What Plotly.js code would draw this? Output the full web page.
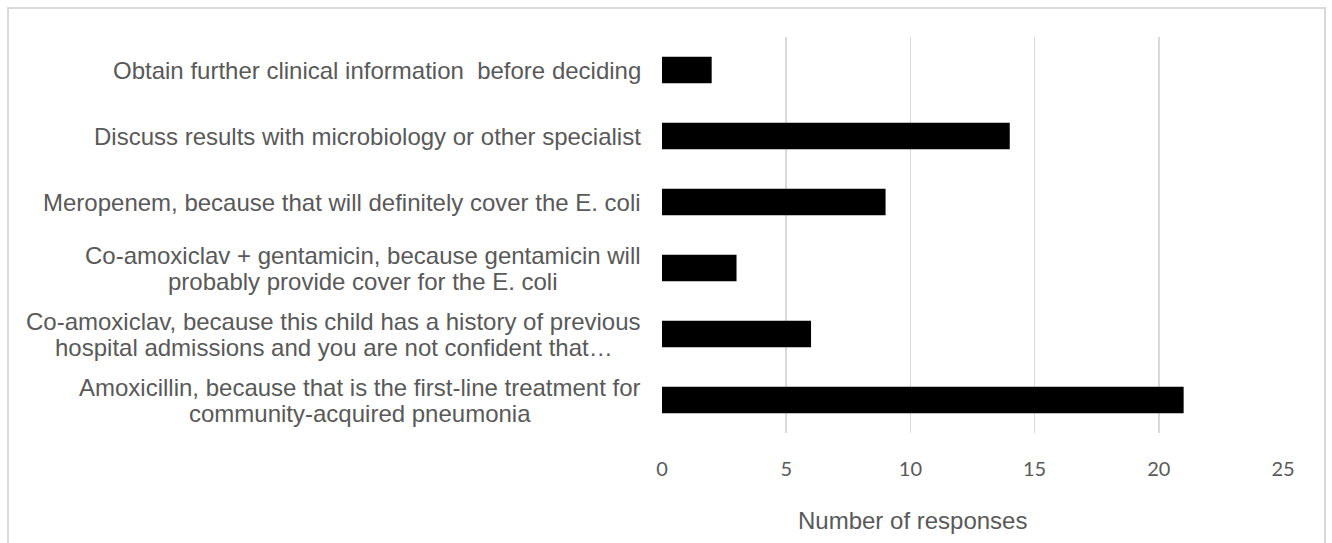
<!DOCTYPE html>
<html>
<head>
<meta charset="utf-8">
<script src="https://cdn.plot.ly/plotly-3.0.1.min.js"></script>
<style>
  html, body { margin: 0; padding: 0; background: #ffffff; }
  #chart { width: 1332px; height: 543px; }
</style>
</head>
<body>
<div id="chart"></div>
<script>
// Categories listed bottom-to-top (Excel order)
const categories = [
  "Amoxicillin, because that is the first-line treatment for<br>community-acquired pneumonia",
  "Co-amoxiclav, because this child has a history of previous<br>hospital admissions and you are not confident that…",
  "Co-amoxiclav + gentamicin, because gentamicin will<br>probably provide cover for the E. coli",
  "Meropenem, because that will definitely cover the E. coli",
  "Discuss results with microbiology or other specialist",
  "Obtain further clinical information  before deciding"
];
const responses = [21, 6, 3, 9, 14, 2];
const xTickVals = [0, 5, 10, 15, 20, 25];
const xAxisTitle = "Number of responses";

// layout geometry (pixels)
const W = 1332, H = 543;
const plotL = 662, plotR = 1283, plotT = 37, plotB = 433;
const plotW = plotR - plotL, plotH = plotB - plotT;
const px2x = p => (p - plotL) / plotW;
const px2y = p => (plotB - p) / plotH;

const labelFont = 'Liberation Sans, Arial, sans-serif';
const labelSize = 24;
const labelColor = '#595959';
const labelRight = 641;
const lineGap = 26;

const ctx = document.createElement('canvas').getContext('2d');
ctx.font = labelSize + 'px "Liberation Sans"';

const annotations = [];
categories.forEach((cat, i) => {
  const lines = cat.split('<br>');
  const widths = lines.map(l => ctx.measureText(l).width);
  const blockW = Math.max(...widths);
  const cx = labelRight - blockW / 2;
  const n = lines.length;
  lines.forEach((line, j) => {
    annotations.push({
      xref: 'paper', yref: 'y',
      x: px2x(cx), y: i,
      xanchor: 'center', yanchor: 'middle',
      text: line,
      showarrow: false,
      yshift: ((n - 1) / 2 - j) * lineGap,
      font: { family: labelFont, size: labelSize, color: labelColor }
    });
  });
});

annotations.push({
  xref: 'paper', yref: 'paper',
  x: px2x(912), y: px2y(520),
  xanchor: 'center', yanchor: 'middle',
  text: xAxisTitle, showarrow: false,
  font: { family: labelFont, size: 24, color: labelColor }
});

const trace = {
  type: 'bar',
  orientation: 'h',
  x: responses,
  y: categories.map((c, i) => i),
  marker: { color: '#000000', line: { width: 0 } },
  width: 0.4,
  hoverinfo: 'x'
};

const layout = {
  width: W, height: H,
  margin: { l: plotL, r: W - plotR, t: plotT, b: H - plotB, pad: 0 },
  paper_bgcolor: '#ffffff',
  plot_bgcolor: '#ffffff',
  showlegend: false,
  bargap: 0.6,
  xaxis: {
    range: [0, 25],
    tickvals: xTickVals,
    ticktext: xTickVals.map(String),
    showgrid: true,
    gridcolor: '#d9d9d9',
    gridwidth: 1.5,
    zeroline: false,
    showline: false,
    ticks: '',
    ticklabelstandoff: 22,
    tickfont: { family: 'Lato, Carlito, sans-serif', size: 20, color: labelColor },
    fixedrange: true
  },
  yaxis: {
    range: [-0.5, categories.length - 0.5],
    showticklabels: false,
    showgrid: false,
    zeroline: false,
    showline: false,
    ticks: '',
    fixedrange: true
  },
  annotations: annotations,
  shapes: [{
    type: 'rect', xref: 'paper', yref: 'paper',
    x0: px2x(8), x1: px2x(1325), y0: px2y(570), y1: px2y(8),
    line: { color: '#d9d9d9', width: 2 },
    fillcolor: 'rgba(0,0,0,0)',
    layer: 'below'
  }]
};

Plotly.newPlot('chart', [trace], layout, { displayModeBar: false, staticPlot: true });
</script>
</body>
</html>
